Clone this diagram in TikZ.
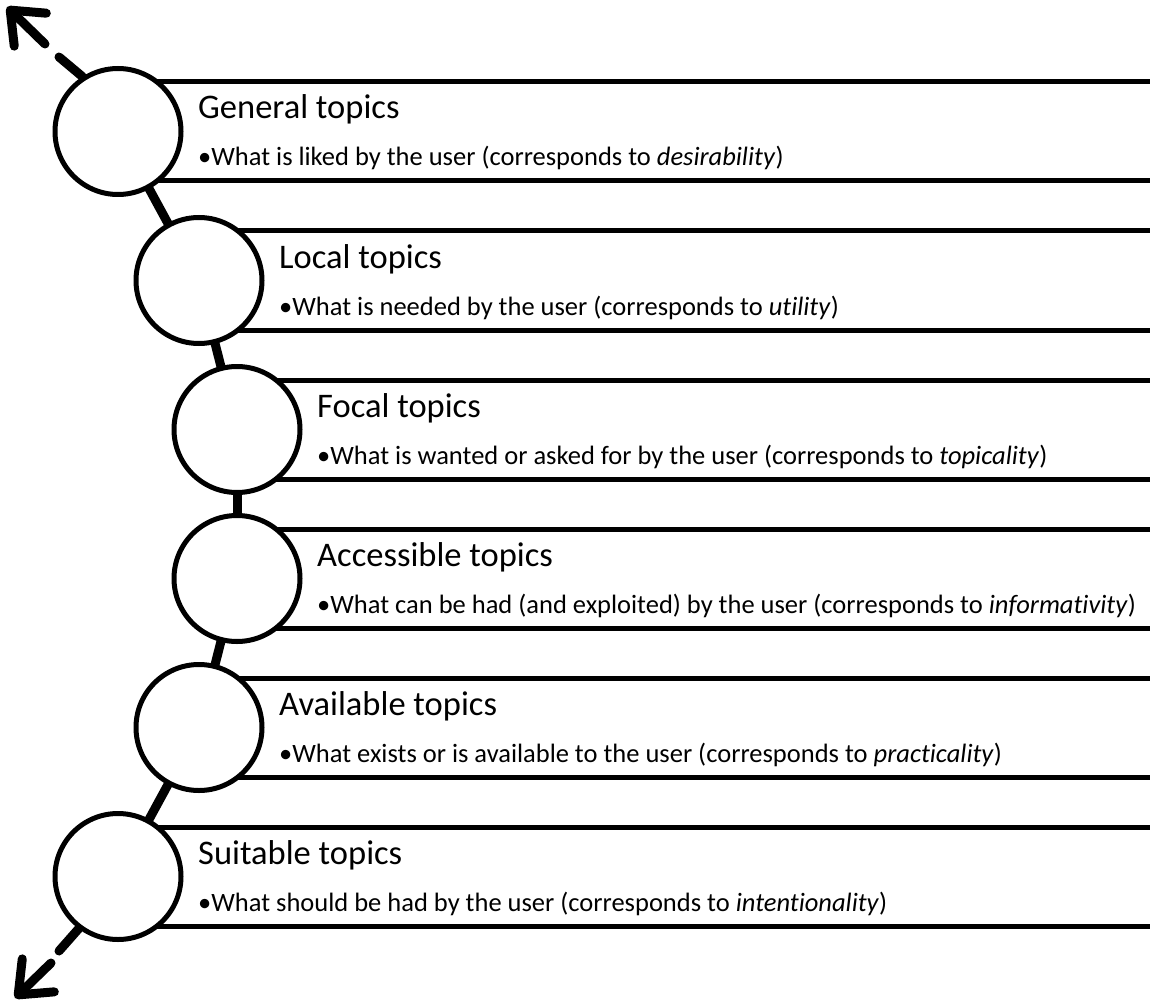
\documentclass[tikz,border=0pt]{standalone}
\usepackage{fontspec}
\setmainfont{Carlito}[Ligatures=NoCommon]
\usetikzlibrary{arrows.meta}
\pgfdeclarelayer{bg}
\pgfsetlayers{bg,main}
\begin{document}
\begin{tikzpicture}[x=1pt,y=-1pt,
  topic/.style={circle, draw, line width=5pt, fill=white, minimum size=126pt, inner sep=0pt},
  rule/.style={line width=5pt},
  link/.style={line width=9pt},
  tail/.style={line width=9pt, line cap=round},
  head/.style={line width=9pt, line cap=round, -{Straight Barb[length=28pt, width=46pt, round]}},
  title/.style={anchor=base west, inner sep=0pt, font=\fontsize{34.5}{34.5}\selectfont},
  desc/.style={anchor=base west, inner sep=0pt, font=\fontsize{26.5}{26.5}\selectfont}]
\useasboundingbox (0,0) rectangle (1150,1000);

% circles
\node[topic] (n1) at (118,131.5) {};
\node[topic] (n2) at (199,280.5) {};
\node[topic] (n3) at (237,429.5) {};
\node[topic] (n4) at (237,578.5) {};
\node[topic] (n5) at (199,727.5) {};
\node[topic] (n6) at (118,876.5) {};

% right ends of the rules
\foreach \i/\t in {1/82,2/231,3/380,4/529,5/678,6/827}{
  \coordinate (t\i) at (1150,\t);
  \coordinate (b\i) at (1150,\t+99);
}

\begin{pgfonlayer}{bg}
  \foreach \i in {1,...,6}{
    \draw[rule] (n\i.center |- t\i) -- (t\i);
    \draw[rule] (n\i.center |- b\i) -- (b\i);
  }
  \draw[link] (n1.center) -- (n2.center);
  \draw[link] (n2.center) -- (n3.center);
  \draw[link] (n3.center) -- (n4.center);
  \draw[link] (n4.center) -- (n5.center);
  \draw[link] (n5.center) -- (n6.center);
  % top arrow
  \coordinate (a1) at (59,57);
  \coordinate (a2) at (45,44);
  \coordinate (ta) at (7,7);
  \draw[tail] (n1.123) -- (a1);
  \draw[head] (a2) -- (ta);
  % bottom arrow
  \coordinate (z1) at (59,951);
  \coordinate (z2) at (51,963);
  \coordinate (tz) at (15,998);
  \draw[tail] (n6.233) -- (z1);
  \draw[head] (z2) -- (tz);
\end{pgfonlayer}

% texts
\node[title] (h1) at (198,119) {General topics};
\node[desc]  (d1) at (198,166) {•What is liked by the user (corresponds to \textit{desirability})};
\node[title] (h2) at (279,268) {Local topics};
\node[desc]  (d2) at (279,315) {•What is needed by the user (corresponds to \textit{utility})};
\node[title] (h3) at (317,417) {Focal topics};
\node[desc]  (d3) at (317,464) {•What is wanted or asked for by the user (corresponds to \textit{topicality})};
\node[title] (h4) at (317,566) {Accessible topics};
\node[desc]  (d4) at (317,613) {•What can be had (and exploited) by the user (corresponds to \textit{informativity})};
\node[title] (h5) at (279,715) {Available topics};
\node[desc]  (d5) at (279,762) {•What exists or is available to the user (corresponds to \textit{practicality})};
\node[title] (h6) at (198,864) {Suitable topics};
\node[desc]  (d6) at (198,911) {•What should be had by the user (corresponds to \textit{intentionality})};
\end{tikzpicture}
\end{document}
